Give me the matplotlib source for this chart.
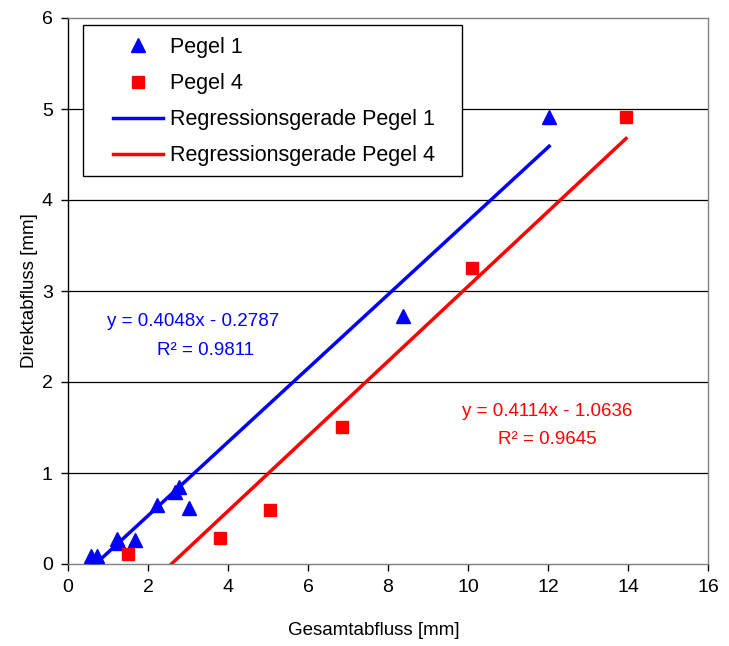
import matplotlib
matplotlib.use("Agg")
import matplotlib.pyplot as plt
from matplotlib.patches import Rectangle
import numpy as np

plt.rcParams['font.family'] = ['Liberation Sans', 'DejaVu Sans']

# Data
p1_x = [0.57, 0.72, 1.22, 1.28, 1.68, 2.23, 2.68, 2.78, 3.03, 8.38, 12.03]
p1_y = [0.09, 0.09, 0.28, 0.23, 0.26, 0.65, 0.79, 0.85, 0.61, 2.72, 4.91]
p4_x = [1.51, 3.81, 5.06, 6.85, 10.10, 13.95]
p4_y = [0.11, 0.29, 0.59, 1.51, 3.25, 4.91]

slope1, icpt1, r2_1 = 0.4048, -0.2787, 0.9811
slope4, icpt4, r2_4 = 0.4114, -1.0636, 0.9645

x_ticks = [0, 2, 4, 6, 8, 10, 12, 14, 16]
y_ticks = [0, 1, 2, 3, 4, 5, 6]

W, H = 729, 646
L, R, T, B = 68, 708, 18, 564
fig = plt.figure(figsize=(W/100, H/100), dpi=100)
ax = fig.add_axes([L/W, 1-B/H, (R-L)/W, (B-T)/H])

def ax_x(px):
    return (px - L) / (R - L)

def ax_y(py):
    return (B - py) / (B - T)

for yv in y_ticks[1:-1]:
    ax.axhline(yv, color='black', lw=0.9, zorder=0)

ax.plot(p1_x, p1_y, linestyle='none', marker='^', color='#0000FF', markersize=10, label='Pegel 1', zorder=3)
ax.plot(p4_x, p4_y, linestyle='none', marker='s', color='#FF0000', markersize=8.5, label='Pegel 4', zorder=3)

xr1 = np.array([min(p1_x), max(p1_x)])
xr4 = np.array([min(p4_x), max(p4_x)])
ax.plot(xr1, slope1*xr1 + icpt1, color='#0000FF', lw=2.5, label='Regressionsgerade Pegel 1', zorder=2)
ax.plot(xr4, slope4*xr4 + icpt4, color='#FF0000', lw=2.5, label='Regressionsgerade Pegel 4', zorder=2)

ax.set_xlim(0, 16)
ax.set_ylim(0, 6)
ax.set_xticks(x_ticks)
ax.set_yticks(y_ticks)
ax.tick_params(direction='out', length=5, width=1, labelsize=14, color='black', pad=6)

for s in ['top', 'right']:
    ax.spines[s].set_color('#808080')
ax.spines['left'].set_color('black')
ax.spines['bottom'].set_color('#808080')
for s in ax.spines.values():
    s.set_linewidth(1)

ax.set_xlabel('Gesamtabfluss [mm]', fontsize=13.5)
ax.xaxis.set_label_coords(ax_x(373.5), ax_y(622))
ax.set_ylabel('Direktabfluss [mm]', fontsize=13.5, labelpad=3)

ax.text(3.125, 2.66, f'y = {slope1:.4f}x - {abs(icpt1):.4f}', ha='center', va='center',
        color='#0000FF', fontsize=13.5)
ax.text(3.45, 2.35, f'R² = {r2_1:.4f}', ha='center', va='center',
        color='#0000FF', fontsize=13.5)
ax.text(11.99, 1.68, f'y = {slope4:.4f}x - {abs(icpt4):.4f}', ha='center', va='center',
        color='#FF0000', fontsize=13.5)
ax.text(11.98, 1.37, f'R² = {r2_4:.4f}', ha='center', va='center',
        color='#FF0000', fontsize=13.5)

# legend frame
frame = Rectangle((ax_x(83), ax_y(176)), ax_x(462) - ax_x(83), ax_y(25) - ax_y(176),
                  transform=ax.transAxes, facecolor='white', edgecolor='black', lw=1, zorder=4)
ax.add_patch(frame)
leg = ax.legend(loc='upper left', bbox_to_anchor=(ax_x(113), ax_y(37)), borderaxespad=0,
                frameon=False, fontsize=15.5, borderpad=0,
                handlelength=2.3, labelspacing=0.7, handletextpad=0.33)
leg.set_zorder(5)

fig.savefig('out.png', dpi=100)
